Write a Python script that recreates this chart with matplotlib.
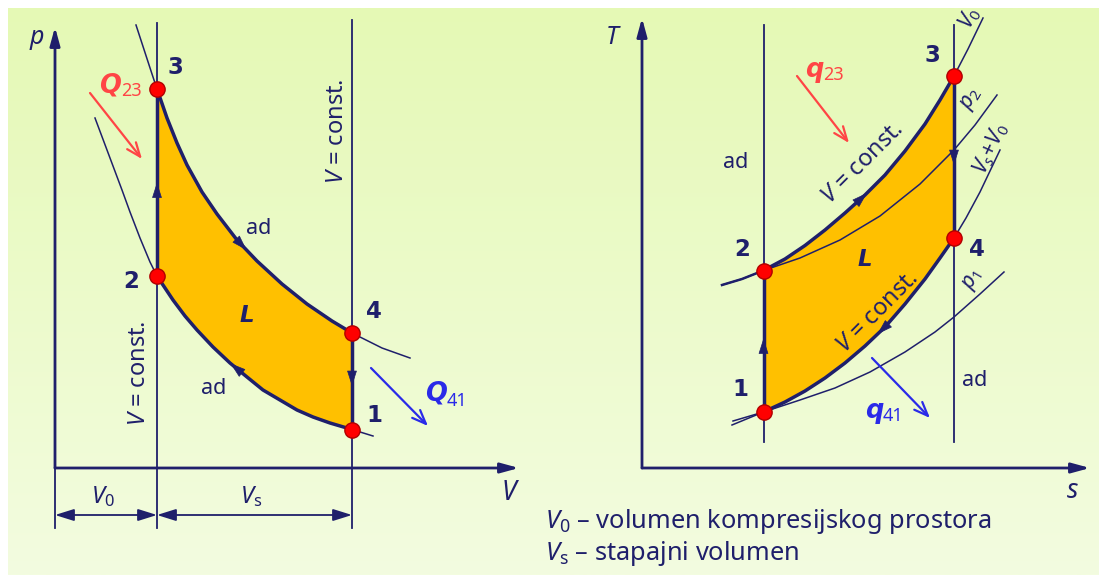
import numpy as np
import matplotlib
matplotlib.use("Agg")
import matplotlib.pyplot as plt

plt.rcParams["font.family"] = ["Noto Sans", "DejaVu Sans"]
plt.rcParams["mathtext.fontset"] = "custom"
plt.rcParams["mathtext.rm"] = "Noto Sans"
plt.rcParams["mathtext.it"] = "Noto Sans:italic"
plt.rcParams["mathtext.bf"] = "Noto Sans:bold"

NAVY = "#1f1f6b"
FILL = "#ffc000"
RED = "#ff0000"
QRED = "#ff4545"
QBLUE = "#2a2ae8"
BOLD = ["DejaVu Sans"]

# ── p-V diagram (V0 = 1.02) ──────────────────────────────────────────────────
V_ad_top = [0.81, 0.97, 1.02, 1.12, 1.22, 1.32, 1.47, 1.62, 1.82, 2.02, 2.27, 2.52, 2.77, 2.97, 3.27, 3.55]
p_ad_top = [4.43, 3.94, 3.79, 3.50, 3.25, 3.03, 2.76, 2.54, 2.28, 2.07, 1.84, 1.64, 1.47, 1.35, 1.20, 1.10]
V_ad_bot = [0.40, 0.49, 0.58, 0.67, 0.75, 0.85, 0.95, 1.02, 1.10, 1.18, 1.30, 1.42, 1.58, 1.75, 1.92,
            2.08, 2.25, 2.42, 2.58, 2.75, 2.97, 3.18]
p_ad_bot = [3.50, 3.26, 3.02, 2.78, 2.56, 2.30, 2.06, 1.92, 1.80, 1.68, 1.52, 1.38, 1.21, 1.05, 0.91,
            0.78, 0.68, 0.58, 0.51, 0.45, 0.385, 0.32]
V_state = [2.97, 1.02, 1.02, 2.97]      # 1, 2, 3, 4
p_state = [0.385, 1.92, 3.79, 1.35]

# ── T-s diagram ──────────────────────────────────────────────────────────────
s_iso_top = [0.80, 1.00, 1.215, 1.43, 1.63, 1.83, 2.03, 2.23, 2.43, 2.63, 2.83, 2.98, 3.12, 3.26, 3.41]
T_iso_top = [1.83, 1.89, 1.975, 2.09, 2.225, 2.38, 2.55, 2.73, 2.93, 3.17, 3.44, 3.68, 3.92, 4.19, 4.50]
s_iso_bot = [0.90, 1.215, 1.43, 1.63, 1.83, 2.03, 2.23, 2.43, 2.63, 2.83, 2.98, 3.12, 3.24, 3.38, 3.58]
T_iso_bot = [0.43, 0.56, 0.66, 0.77, 0.90, 1.05, 1.22, 1.41, 1.64, 1.89, 2.10, 2.30, 2.50, 2.76, 3.18]
s_p2 = [1.215, 1.58, 1.98, 2.38, 2.78, 3.12, 3.33, 3.55]
T_p2 = [1.975, 2.10, 2.28, 2.52, 2.84, 3.18, 3.43, 3.73]
s_p1 = [0.91, 1.215, 1.58, 1.93, 2.28, 2.63, 2.93, 3.12, 3.38, 3.62]
T_p1 = [0.47, 0.56, 0.68, 0.80, 0.96, 1.16, 1.36, 1.51, 1.74, 1.96]
s_state = [1.215, 1.215, 3.12, 3.12]
T_state = [0.56, 1.975, 3.92, 2.30]


def idx(xs, ys, x, y):
    return int(np.argmin(np.abs(np.array(xs) - x) + np.abs(np.array(ys) - y)))


def head(ax, xs, ys, frac):
    xs, ys = np.asarray(xs, float), np.asarray(ys, float)
    d = np.r_[0, np.cumsum(np.hypot(np.diff(xs), np.diff(ys)))]
    t = frac * d[-1]
    x1, y1 = np.interp(t, d, xs), np.interp(t, d, ys)
    x0, y0 = np.interp(t - 0.1, d, xs), np.interp(t - 0.1, d, ys)
    ax.annotate("", xy=(x1, y1), xytext=(x0, y0), zorder=6,
                arrowprops=dict(arrowstyle="-|>,head_length=1.0,head_width=0.32",
                                color=NAVY, lw=0.5, shrinkA=0, shrinkB=0, mutation_scale=10))


def axis_arrow(ax, x0, y0, x1, y1):
    ax.annotate("", xy=(x1, y1), xytext=(x0, y0),
                arrowprops=dict(arrowstyle="-|>,head_length=1.1,head_width=0.3",
                                color=NAVY, lw=2.0, shrinkA=0, shrinkB=0, mutation_scale=10))


fig = plt.figure(figsize=(10.99, 5.75), dpi=100)

bg = fig.add_axes([0, 0, 1, 1])
grad = np.linspace(0, 1, 256)[:, None, None]
c_top = np.array([229, 249, 181]) / 255
c_bot = np.array([243, 252, 224]) / 255
bg.imshow(c_top + (c_bot - c_top) * grad, extent=(8, 1099, 575, 8), aspect="auto")
bg.set_xlim(0, 1099)
bg.set_ylim(575, 0)
bg.axis("off")

# ── p-V ──
ax1 = fig.add_axes([0, 0, 1, 1])
ax1.set_xlim(-0.55, 10.44)
ax1.set_ylim(-1.07, 4.68)
ax1.axis("off")

i3 = idx(V_ad_top, p_ad_top, V_state[2], p_state[2])
i4 = idx(V_ad_top, p_ad_top, V_state[3], p_state[3])
i2 = idx(V_ad_bot, p_ad_bot, V_state[1], p_state[1])
i1 = idx(V_ad_bot, p_ad_bot, V_state[0], p_state[0])
Vt, pt = np.array(V_ad_top), np.array(p_ad_top)
Vb, pb = np.array(V_ad_bot), np.array(p_ad_bot)
ax1.fill(np.r_[Vt[i3:i4 + 1], Vb[i2:i1 + 1][::-1]], np.r_[pt[i3:i4 + 1], pb[i2:i1 + 1][::-1]],
         color=FILL, lw=0, zorder=1)
ax1.plot(Vt, pt, color=NAVY, lw=1.1, zorder=2)
ax1.plot(Vb, pb, color=NAVY, lw=1.1, zorder=2)
for v, top in [(V_state[1], 4.45), (V_state[0], 4.48)]:
    ax1.plot([v, v], [-0.60, top], color=NAVY, lw=1.3, zorder=2)
ax1.plot(Vt[i3:i4 + 1], pt[i3:i4 + 1], color=NAVY, lw=2.5, zorder=3, solid_capstyle="round")
ax1.plot(Vb[i2:i1 + 1], pb[i2:i1 + 1], color=NAVY, lw=2.5, zorder=3, solid_capstyle="round")
ax1.plot([V_state[1], V_state[2]], [p_state[1], p_state[2]], color=NAVY, lw=2.5, zorder=3)
ax1.plot([V_state[3], V_state[0]], [p_state[3], p_state[0]], color=NAVY, lw=2.5, zorder=3)
head(ax1, [V_state[1], V_state[2]], [p_state[1], p_state[2]], 0.5)
head(ax1, [V_state[3], V_state[0]], [p_state[3], p_state[0]], 0.55)
head(ax1, Vt[i3:i4 + 1], pt[i3:i4 + 1], 0.58)
head(ax1, Vb[i2:i1 + 1][::-1], pb[i2:i1 + 1][::-1], 0.55)
ax1.plot(V_state, p_state, "o", ms=11, mfc=RED, mec="#b00000", mew=1, zorder=7)

axis_arrow(ax1, 0, 0, 0, 4.41)
axis_arrow(ax1, 0, 0, 4.64, 0)
ax1.plot([0, 0], [-0.60, 0], color=NAVY, lw=1.3)
for a, b in [(0, V_state[1]), (V_state[1], V_state[0])]:
    ax1.annotate("", xy=(b, -0.47), xytext=(a, -0.47),
                 arrowprops=dict(arrowstyle="<|-|>,head_length=1.15,head_width=0.36",
                                 color=NAVY, lw=1.3, shrinkA=0, shrinkB=0, mutation_scale=10))

# ── T-s ──
ax2 = fig.add_axes([0, 0, 1, 1])
ax2.set_xlim(-6.42, 4.57)
ax2.set_ylim(-1.07, 4.68)
ax2.axis("off")

st, Tt = np.array(s_iso_top), np.array(T_iso_top)
sb, Tb = np.array(s_iso_bot), np.array(T_iso_bot)
j2 = idx(st, Tt, s_state[1], T_state[1])
j3 = idx(st, Tt, s_state[2], T_state[2])
j1 = idx(sb, Tb, s_state[0], T_state[0])
j4 = idx(sb, Tb, s_state[3], T_state[3])
ax2.fill(np.r_[st[j2:j3 + 1], sb[j1:j4 + 1][::-1]], np.r_[Tt[j2:j3 + 1], Tb[j1:j4 + 1][::-1]],
         color=FILL, lw=0, zorder=1)
ax2.plot(st, Tt, color=NAVY, lw=1.1, zorder=2)
ax2.plot(st[:j2 + 1], Tt[:j2 + 1], color=NAVY, lw=1.8, zorder=2)
ax2.plot(sb, Tb, color=NAVY, lw=1.1, zorder=2)
ax2.plot(s_p2, T_p2, color=NAVY, lw=1.1, zorder=2)
ax2.plot(s_p1, T_p1, color=NAVY, lw=1.1, zorder=2)
for s in [s_state[0], s_state[2]]:
    ax2.plot([s, s], [0.26, 4.43], color=NAVY, lw=1.3, zorder=2)
ax2.plot(st[j2:j3 + 1], Tt[j2:j3 + 1], color=NAVY, lw=2.5, zorder=3, solid_capstyle="round")
ax2.plot(sb[j1:j4 + 1], Tb[j1:j4 + 1], color=NAVY, lw=2.5, zorder=3, solid_capstyle="round")
ax2.plot([s_state[0], s_state[1]], [T_state[0], T_state[1]], color=NAVY, lw=2.5, zorder=3)
ax2.plot([s_state[2], s_state[3]], [T_state[2], T_state[3]], color=NAVY, lw=2.5, zorder=3)
head(ax2, [s_state[0], s_state[1]], [T_state[0], T_state[1]], 0.52)
head(ax2, [s_state[2], s_state[3]], [T_state[2], T_state[3]], 0.55)
head(ax2, st[j2:j3 + 1], Tt[j2:j3 + 1], 0.47)
head(ax2, sb[j1:j4 + 1][::-1], Tb[j1:j4 + 1][::-1], 0.47)
ax2.plot(s_state, T_state, "o", ms=11, mfc=RED, mec="#b00000", mew=1, zorder=7)
axis_arrow(ax2, 0, 0, 0, 4.50)
axis_arrow(ax2, 0, 0, 4.48, 0)

# ── texts (pixel coordinates) ──
ov = fig.add_axes([0, 0, 1, 1])
ov.set_xlim(0, 1099)
ov.set_ylim(575, 0)
ov.axis("off")

def txt(x, y, s, size, **kw):
    kw.setdefault("color", NAVY)
    ov.text(x, y, s, fontsize=size, ha=kw.pop("ha", "center"), va=kw.pop("va", "center"), **kw)

# p-V labels
txt(37, 38, "p", 18, style="italic")
txt(509, 493, "V", 19, style="italic")
for (x, y, n) in [(175, 67, "3"), (131, 281, "2"), (374, 312, "4"), (374, 416, "1")]:
    txt(x, y, n, 16.5, weight="bold", family=BOLD)
txt(247, 316, "L", 16.5, weight="bold", style="italic", family=BOLD)
txt(259, 229, "ad", 15.5)
txt(214, 389, "ad", 15.5)
txt(139, 373, "$V$ = const.", 17, rotation=90)
txt(337, 131, "$V$ = const.", 17, rotation=90)
txt(103, 497, "$V_0$", 17)
txt(251, 497, "$V_\\mathrm{s}$", 17)
txt(110, 86, "Q", 18.5, color=QRED, weight="bold", style="italic", family=BOLD)
txt(121, 91, "23", 13, color=QRED, ha="left")
txt(436, 393, "Q", 18.5, color=QBLUE, weight="bold", style="italic", family=BOLD)
txt(447, 401, "41", 13, color=QBLUE, ha="left")
for (a, b, c) in [((90, 93), (142, 159), QRED), ((371, 368), (428, 426), QBLUE)]:
    ov.annotate("", xy=b, xytext=a,
                arrowprops=dict(arrowstyle="->,head_length=1.0,head_width=0.4", color=c,
                                lw=1.6, shrinkA=0, shrinkB=0, mutation_scale=10))

# T-s labels
txt(612, 37, "T", 18, style="italic")
txt(1073, 491, "s", 19, style="italic")
for (x, y, n) in [(932, 56, "3"), (742, 250, "2"), (977, 249, "4"), (740, 389, "1")]:
    txt(x, y, n, 16.5, weight="bold", family=BOLD)
txt(865, 259, "L", 16.5, weight="bold", style="italic", family=BOLD)
txt(736, 163, "ad", 15.5)
txt(975, 380, "ad", 15.5)
txt(863, 163, "$V$ = const.", 17, rotation=45, rotation_mode="anchor")
txt(878, 312, "$V$ = const.", 17, rotation=45, rotation_mode="anchor")
txt(970, 18, "$V_0$", 15.5, rotation=62, rotation_mode="anchor")
txt(972, 99, "$p_2$", 15.5, rotation=60, rotation_mode="anchor")
txt(991, 148, "$V_s\\!+\\!V_0$", 15.5, rotation=65, rotation_mode="anchor")
txt(973, 280, "$p_1$", 15.5, rotation=60, rotation_mode="anchor")
txt(814, 70, "q", 18.5, color=QRED, weight="bold", style="italic", family=BOLD)
txt(823, 75, "23", 13, color=QRED, ha="left")
txt(874, 411, "q", 18.5, color=QBLUE, weight="bold", style="italic", family=BOLD)
txt(883, 416, "41", 13, color=QBLUE, ha="left")
for (a, b, c) in [((797, 76), (849, 143), QRED), ((872, 358), (930, 418), QBLUE)]:
    ov.annotate("", xy=b, xytext=a,
                arrowprops=dict(arrowstyle="->,head_length=1.0,head_width=0.4", color=c,
                                lw=1.6, shrinkA=0, shrinkB=0, mutation_scale=10))

# legend
txt(545, 528, "$V_0$ – volumen kompresijskog prostora", 18.3, ha="left", va="baseline")
txt(545, 560, "$V_\\mathrm{s}$ – stapajni volumen", 18.3, ha="left", va="baseline")

fig.savefig("out.png", dpi=100)
